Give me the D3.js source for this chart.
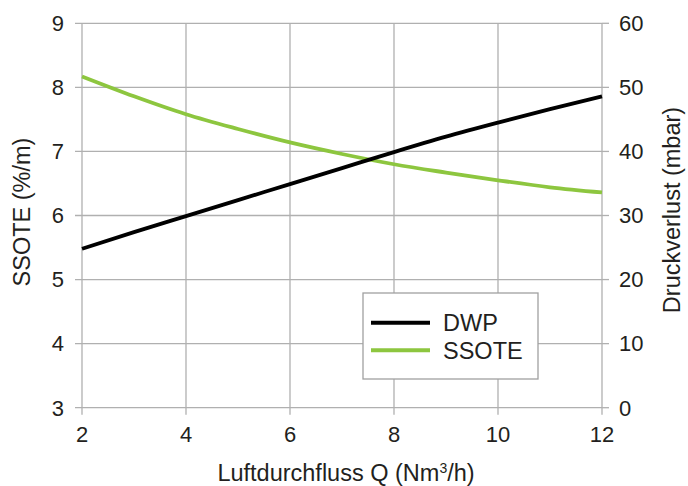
<!DOCTYPE html>
<html><head><meta charset="utf-8">
<script src="https://cdn.jsdelivr.net/npm/d3@7"></script>
<style>body{margin:0;background:#fff}svg{display:block}text{font-family:"Liberation Sans",Arial,sans-serif;fill:#231f20}</style>
</head><body><svg id="c" width="688" height="486"></svg>
<script>
const flow = [2,3,4,5,6,7,8,9,10,11,12];
const dwp = [24.8,27.4,29.9,32.4,34.9,37.4,39.9,42.3,44.5,46.6,48.6];
const ssote = [8.17,7.86,7.58,7.35,7.14,6.96,6.80,6.67,6.55,6.44,6.36];
const xTicks = [2,4,6,8,10,12];
const yLeftTicks = [3,4,5,6,7,8,9];
const yRightTicks = [0,10,20,30,40,50,60];
const seriesNames = ["DWP","SSOTE"];
const colors = ["#000000","#8dc63f"];

const svg = d3.select("#c");
const L=82, R=602, T=23.3, B=407.7;
const x = d3.scaleLinear().domain([2,12]).range([L,R]);
const yl = d3.scaleLinear().domain([3,9]).range([B,T]);
const yr = d3.scaleLinear().domain([0,60]).range([B,T]);
const grid="#b0b0b0";

// grid
svg.append("g").selectAll("line").data(xTicks).join("line")
  .attr("x1",d=>x(d)).attr("x2",d=>x(d)).attr("y1",T).attr("y2",B+7)
  .attr("stroke",grid).attr("stroke-width",1.3);
svg.append("g").selectAll("line").data(yLeftTicks).join("line")
  .attr("x1",L-7).attr("x2",R).attr("y1",d=>yl(d)).attr("y2",d=>yl(d))
  .attr("stroke",grid).attr("stroke-width",1.3);
svg.append("g").selectAll("line").data(yRightTicks).join("line")
  .attr("x1",R).attr("x2",R+7).attr("y1",d=>yr(d)).attr("y2",d=>yr(d))
  .attr("stroke",grid).attr("stroke-width",1.3);

// tick labels
svg.append("g").selectAll("text").data(xTicks).join("text")
  .attr("x",d=>x(d)).attr("y",442).attr("text-anchor","middle")
  .attr("font-size",22).text(d=>d);
svg.append("g").selectAll("text").data(yLeftTicks).join("text")
  .attr("x",64).attr("y",d=>yl(d)+7.8).attr("text-anchor","end")
  .attr("font-size",22).text(d=>d);
svg.append("g").selectAll("text").data(yRightTicks).join("text")
  .attr("x",619).attr("y",d=>yr(d)+7.8).attr("text-anchor","start")
  .attr("font-size",22).text(d=>d);

// titles
svg.append("text").attr("x",346).attr("y",481).attr("text-anchor","middle").attr("font-size",23.5)
  .html('Luftdurchfluss Q (Nm<tspan dy="-8" font-size="14">3</tspan><tspan dy="8">/h)</tspan>');
svg.append("text").attr("transform","translate(29.5,212) rotate(-90)").attr("text-anchor","middle")
  .attr("font-size",23.5).text("SSOTE (%/m)");
svg.append("text").attr("transform","translate(680,210) rotate(-90)").attr("text-anchor","middle")
  .attr("font-size",23.5).text("Druckverlust (mbar)");

// lines
const lineR = d3.line().x((d,i)=>x(flow[i])).y(d=>yr(d)).curve(d3.curveMonotoneX);
const lineL = d3.line().x((d,i)=>x(flow[i])).y(d=>yl(d)).curve(d3.curveMonotoneX);
svg.append("path").attr("d",lineL(ssote)).attr("fill","none").attr("stroke",colors[1]).attr("stroke-width",3.8);
svg.append("path").attr("d",lineR(dwp)).attr("fill","none").attr("stroke",colors[0]).attr("stroke-width",3.8);

// legend
const lg = svg.append("g");
lg.append("rect").attr("x",363).attr("y",293).attr("width",175).attr("height",86)
  .attr("fill","#fff").attr("stroke","#a0a0a0").attr("stroke-width",1.3);
seriesNames.forEach((n,i)=>{
  const yy = 322.7 + i*27.6;
  lg.append("line").attr("x1",371).attr("x2",430).attr("y1",yy).attr("y2",yy)
    .attr("stroke",colors[i]).attr("stroke-width",4);
  lg.append("text").attr("x",443).attr("y",yy+8.3).attr("font-size",23.5).text(n);
});
</script></body></html>
